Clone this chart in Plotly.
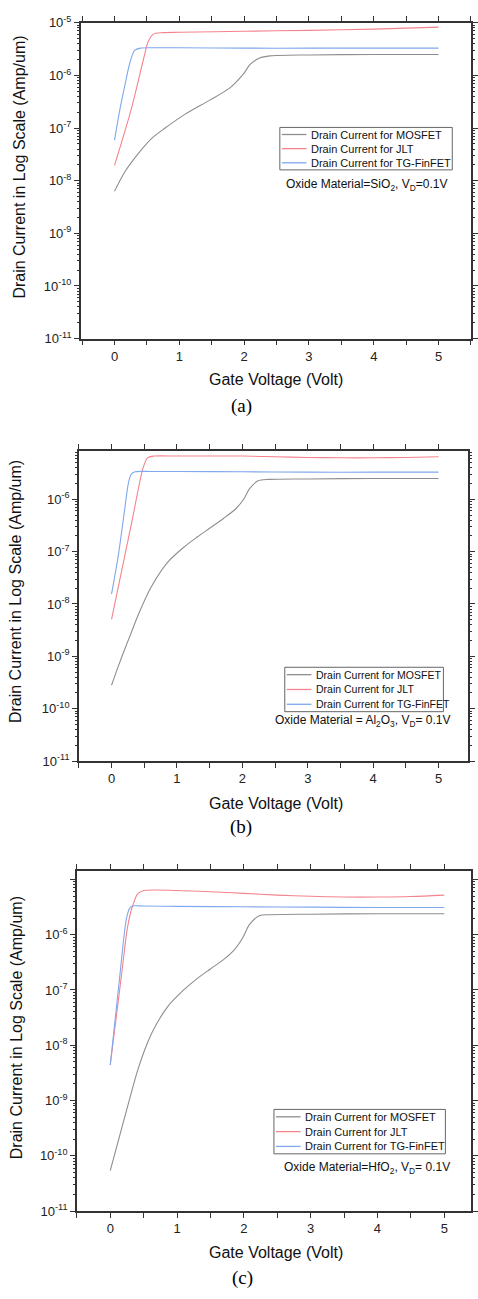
import plotly.graph_objects as go

W, H = 478, 1299

series_names = ["Drain Current for MOSFET", "Drain Current for JLT", "Drain Current for TG-FinFET"]
series_colors = ["#8e8e8e", "#f5838d", "#80a8ee"]
panel_captions = ["(a)", "(b)", "(c)"]
oxide_labels = [
    "Oxide Material=SiO<sub>2</sub>, V<sub>D</sub>=0.1V",
    "Oxide Material = Al<sub>2</sub>O<sub>3</sub>, V<sub>D</sub>= 0.1V",
    "Oxide Material=HfO<sub>2</sub>, V<sub>D</sub>= 0.1V",
]
x_title = "Gate Voltage (Volt)"
y_title = "Drain Current in Log Scale (Amp/um)"
x_ticks = [0, 1, 2, 3, 4, 5]
y_tick_exps = [-11, -10, -9, -8, -7, -6, -5]

# ---------------- Panel (a) : SiO2 ----------------
a_mos_x = [0, 0.16, 0.36, 0.57, 0.77, 1.08, 1.47, 1.78, 1.99, 2.09, 2.24, 2.4, 3.0, 4.0, 5.0]
a_mos_y = [6.3e-9, 1.48e-8, 3.2e-8, 6.3e-8, 9.8e-8, 1.8e-7, 3.4e-7, 5.8e-7, 1.07e-6, 1.6e-6, 2.15e-6, 2.35e-6, 2.45e-6, 2.5e-6, 2.5e-6]
a_jlt_x = [0, 0.263, 0.45, 0.52, 0.6, 0.75, 1.0, 2.0, 3.0, 4.0, 5.0]
a_jlt_y = [1.95e-8, 2.4e-7, 2.1e-6, 4.4e-6, 6.1e-6, 6.5e-6, 6.6e-6, 6.9e-6, 7.2e-6, 7.6e-6, 8.3e-6]
a_fin_x = [0, 0.087, 0.16, 0.24, 0.31, 0.4, 0.6, 1.0, 2.0, 3.0, 4.0, 5.0]
a_fin_y = [5.9e-8, 2.4e-7, 6.5e-7, 1.8e-6, 3.0e-6, 3.3e-6, 3.35e-6, 3.35e-6, 3.3e-6, 3.3e-6, 3.3e-6, 3.3e-6]

# ---------------- Panel (b) : Al2O3 ----------------
b_mos_x = [0, 0.1, 0.2, 0.3, 0.41, 0.6, 0.86, 1.1, 1.31, 1.5, 1.71, 1.9, 2.02, 2.11, 2.24, 2.4, 3.0, 4.0, 5.0]
b_mos_y = [2.8e-10, 6.3e-10, 1.35e-9, 2.8e-9, 6.3e-9, 2.05e-8, 6.3e-8, 1.2e-7, 1.9e-7, 2.8e-7, 4.3e-7, 6.6e-7, 1.0e-6, 1.6e-6, 2.25e-6, 2.4e-6, 2.45e-6, 2.5e-6, 2.5e-6]
b_jlt_x = [0, 0.31, 0.48, 0.55, 0.65, 1.0, 2.0, 2.5, 3.0, 3.5, 4.0, 4.5, 5.0]
b_jlt_y = [5.1e-9, 3.7e-7, 3.9e-6, 6.2e-6, 6.7e-6, 6.7e-6, 6.7e-6, 6.5e-6, 6.3e-6, 6.2e-6, 6.2e-6, 6.3e-6, 6.5e-6]
b_fin_x = [0, 0.105, 0.21, 0.26, 0.3, 0.36, 0.6, 1.0, 2.0, 3.0, 4.0, 5.0]
b_fin_y = [1.55e-8, 8.7e-8, 7.8e-7, 2.1e-6, 3.0e-6, 3.35e-6, 3.4e-6, 3.4e-6, 3.35e-6, 3.3e-6, 3.3e-6, 3.3e-6]

# ---------------- Panel (c) : HfO2 ----------------
c_mos_x = [0, 0.12, 0.27, 0.41, 0.55, 0.66, 0.86, 1.10, 1.30, 1.5, 1.69, 1.85, 1.99, 2.08, 2.23, 2.4, 3.0, 4.0, 5.0]
c_mos_y = [5.4e-11, 1.86e-10, 8.7e-10, 3.5e-9, 1.05e-8, 2.05e-8, 5.0e-8, 1.0e-7, 1.6e-7, 2.4e-7, 3.5e-7, 5.2e-7, 9.1e-7, 1.5e-6, 2.2e-6, 2.3e-6, 2.35e-6, 2.4e-6, 2.4e-6]
c_jlt_x = [0, 0.167, 0.26, 0.33, 0.41, 0.5, 1.0, 1.5, 2.0, 2.5, 3.0, 3.5, 4.0, 4.5, 5.0]
c_jlt_y = [4.4e-9, 1.8e-7, 1.4e-6, 3.2e-6, 5.5e-6, 6.3e-6, 6.3e-6, 6.0e-6, 5.6e-6, 5.2e-6, 4.95e-6, 4.8e-6, 4.8e-6, 4.9e-6, 5.2e-6]
c_fin_x = [0, 0.143, 0.24, 0.29, 0.33, 0.5, 1.0, 2.0, 3.0, 4.0, 5.0]
c_fin_y = [4.4e-9, 1.8e-7, 1.9e-6, 3.0e-6, 3.3e-6, 3.3e-6, 3.25e-6, 3.2e-6, 3.15e-6, 3.1e-6, 3.1e-6]

panels_data = [
    [(a_mos_x, a_mos_y), (a_jlt_x, a_jlt_y), (a_fin_x, a_fin_y)],
    [(b_mos_x, b_mos_y), (b_jlt_x, b_jlt_y), (b_fin_x, b_fin_y)],
    [(c_mos_x, c_mos_y), (c_jlt_x, c_jlt_y), (c_fin_x, c_fin_y)],
]

# ---------------- layout (pixel geometry) ----------------
def px(x):
    return x / W

def py(y):
    return 1 - y / H

# plot-area pixel boxes: left, right, top, bottom
boxes = [(82, 478, 14, 334), (80, 475, 448, 762), (78, 478, 873, 1218)]
x_ranges = [[-0.52, 5.5], [-0.5, 5.45], [-0.5, 5.4]]
y_ranges = [[-11, -5], [-11, -5.08], [-11, -4.84]]
y_title_pos = [(20, 160), (15, 590), (17, 1032)]
x_title_y = [375, 805, 1260]
caption_pos = [(245, 402), (245, 829), (246, 1286)]
legend_boxes = [(284, 459, 120, 163, 11), (289, 450, 667, 712, 10.5), (278, 452, 1115, 1160, 11)]
oxide_pos = [(372, 178), (368, 721), (372, 1174)]

fig = go.Figure()
shapes = []
annotations = []

minor_vals = [m * 10.0 ** e for e in range(-11, -4) for m in range(2, 10)]
axis_color = "#333"
tick_font = dict(family="Liberation Sans", size=13, color="#222")

for i in range(3):
    l, r, t, b = boxes[i]
    xa = "xaxis" if i == 0 else f"xaxis{i+1}"
    ya = "yaxis" if i == 0 else f"yaxis{i+1}"
    xref = "x" if i == 0 else f"x{i+1}"
    yref = "y" if i == 0 else f"y{i+1}"
    ya_minor = f"yaxis{i+4}"
    yref_minor = f"y{i+4}"
    for k in range(3):
        xs, ys = panels_data[i][k]
        fig.add_trace(go.Scatter(
            x=xs, y=ys, mode="lines", name=series_names[k],
            line=dict(color=series_colors[k], width=1.1, shape="spline", smoothing=0.8),
            xaxis=xref, yaxis=yref, showlegend=False,
        ))
    # empty trace so the minor-tick overlay axis is drawn
    fig.add_trace(go.Scatter(x=[None], y=[None], mode="lines", xaxis=xref, yaxis=yref_minor,
                             showlegend=False, hoverinfo="skip"))
    fig.update_layout(**{
        xa: dict(
            domain=[px(l), px(r)], range=x_ranges[i], anchor=yref,
            tickmode="array", tickvals=x_ticks, ticktext=[str(v) for v in x_ticks],
            ticks="outside", ticklen=5, tickwidth=1.3, tickcolor=axis_color,
            minor=dict(dtick=0.5, tick0=0, ticks="outside", ticklen=3, tickwidth=1.1, tickcolor=axis_color),
            showline=True, linecolor=axis_color, linewidth=1.5, mirror="allticks",
            showgrid=False, zeroline=False, tickfont=tick_font,
        ),
        ya: dict(
            domain=[py(b), py(t)], type="log", range=y_ranges[i], anchor=xref,
            tickmode="array", tickvals=[10.0 ** e for e in y_tick_exps],
            ticktext=[("10<sup>%d</sup>" % e) if (i == 0 or e < -5) else "" for e in y_tick_exps],
            ticks="outside", ticklen=5, tickwidth=1.3, tickcolor=axis_color,
            showline=True, linecolor=axis_color, linewidth=1.5, mirror="allticks",
            showgrid=False, zeroline=False, tickfont=tick_font,
        ),
        ya_minor: dict(
            domain=[py(b), py(t)], type="log", range=y_ranges[i], anchor=xref,
            overlaying=yref, side="left",
            tickmode="array", tickvals=minor_vals,
            showticklabels=False,
            ticks="outside", ticklen=3, tickwidth=1, tickcolor=axis_color,
            showline=False, mirror="ticks", showgrid=False, zeroline=False,
        ),
    })

    # axis titles
    annotations.append(dict(
        xref="paper", yref="paper", x=px(y_title_pos[i][0]), y=py(y_title_pos[i][1]),
        text=y_title, textangle=-90, showarrow=False, xanchor="center", yanchor="middle",
        font=dict(family="Liberation Sans", size=16, color="#111"),
    ))
    annotations.append(dict(
        xref="paper", yref="paper", x=px(280), y=py(x_title_y[i]),
        text=x_title, showarrow=False, xanchor="center", yanchor="middle",
        font=dict(family="Liberation Sans", size=16, color="#111"),
    ))
    annotations.append(dict(
        xref="paper", yref="paper", x=px(caption_pos[i][0]), y=py(caption_pos[i][1]),
        text=panel_captions[i], showarrow=False, xanchor="center", yanchor="middle",
        font=dict(family="Liberation Serif", size=19, color="#000"),
    ))
    # oxide label
    annotations.append(dict(
        xref="paper", yref="paper", x=px(oxide_pos[i][0]), y=py(oxide_pos[i][1]),
        text=oxide_labels[i], showarrow=False, xanchor="center", yanchor="middle",
        font=dict(family="Liberation Sans", size=12, color="#111"),
    ))
    # legend box
    lx0, lx1, ly0, ly1, fs = legend_boxes[i]
    shapes.append(dict(type="rect", xref="paper", yref="paper",
                       x0=px(lx0), x1=px(lx1), y0=py(ly1), y1=py(ly0),
                       line=dict(color="#666", width=1), fillcolor="white"))
    step = (ly1 - ly0) / 3
    for k in range(3):
        yc = ly0 + step * (k + 0.5)
        shapes.append(dict(type="line", xref="paper", yref="paper",
                           x0=px(lx0 + 2), x1=px(lx0 + 27), y0=py(yc), y1=py(yc),
                           line=dict(color=series_colors[k], width=1.3)))
        annotations.append(dict(
            xref="paper", yref="paper", x=px(lx0 + 30), y=py(yc),
            text=series_names[k], showarrow=False, xanchor="left", yanchor="middle",
            font=dict(family="Liberation Sans", size=fs, color="#111"),
        ))

fig.update_layout(
    width=W, height=H, margin=dict(l=0, r=0, t=0, b=0),
    paper_bgcolor="white", plot_bgcolor="rgba(0,0,0,0)",
    shapes=shapes, annotations=annotations, showlegend=False,
)

fig.write_html("out.html")
